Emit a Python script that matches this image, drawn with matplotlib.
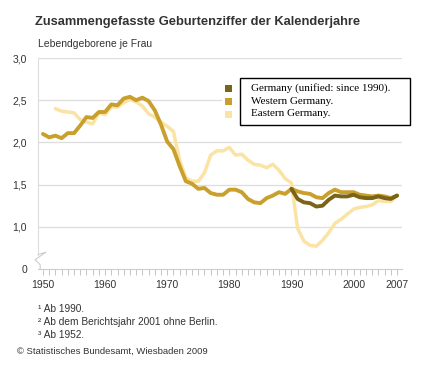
import matplotlib.pyplot as plt
from matplotlib.patches import Rectangle

years_west = list(range(1950, 2008))
west = [2.10, 2.06, 2.08, 2.05, 2.11, 2.11, 2.20, 2.30, 2.29, 2.36,
        2.36, 2.45, 2.44, 2.52, 2.54, 2.50, 2.53, 2.49, 2.38, 2.21,
        2.01, 1.92, 1.72, 1.54, 1.51, 1.45, 1.46, 1.40, 1.38, 1.38,
        1.44, 1.44, 1.41, 1.33, 1.29, 1.28, 1.34, 1.37, 1.41, 1.39,
        1.45, 1.42, 1.40, 1.39, 1.35, 1.34, 1.40, 1.44, 1.41, 1.41,
        1.41, 1.38, 1.37, 1.36, 1.37, 1.36, 1.34, 1.37]

years_east = list(range(1952, 2008))
east = [2.40, 2.37, 2.36, 2.35, 2.27, 2.24, 2.22, 2.35,
        2.33, 2.42, 2.42, 2.47, 2.51, 2.48, 2.43, 2.34, 2.30, 2.24,
        2.19, 2.13, 1.79, 1.58, 1.54, 1.54, 1.64, 1.85, 1.90, 1.90,
        1.94, 1.85, 1.86, 1.79, 1.74, 1.73, 1.70, 1.74, 1.67, 1.57,
        1.52, 0.98, 0.83, 0.78, 0.77, 0.84, 0.93, 1.04, 1.09, 1.15,
        1.21, 1.23, 1.24, 1.26, 1.31, 1.30, 1.30, 1.37]

years_de = list(range(1990, 2008))
germany = [1.45, 1.33, 1.29, 1.28, 1.24, 1.25, 1.32, 1.37, 1.36, 1.36,
           1.38, 1.35, 1.34, 1.34, 1.36, 1.34, 1.33, 1.37]

yticks = [0.5, 1.0, 1.5, 2.0, 2.5, 3.0]
ytick_labels = ["0", "1,0", "1,5", "2,0", "2,5", "3,0"]
xticks = [1950, 1960, 1970, 1980, 1990, 2000, 2007]

legend_labels = ["Germany (unified: since 1990).", "Western Germany.", "Eastern Germany."]
c_de, c_west, c_east = "#7a6418", "#c9a02c", "#fbe3a4"

plt.rcParams['font.family'] = ['Liberation Sans', 'DejaVu Sans']
txt = "#333333"

fig = plt.figure(figsize=(4.29, 3.73), dpi=100)
ax = fig.add_axes([38 / 429, 1 - 269 / 373, 364 / 429, 211 / 373])

ax.plot(years_east, east, color=c_east, lw=2.5, solid_capstyle="round", zorder=3)
ax.plot(years_west, west, color=c_west, lw=2.8, solid_capstyle="round", zorder=4)
ax.plot(years_de, germany, color=c_de, lw=2.8, solid_capstyle="round", zorder=5)

ax.set_xlim(1949.2, 2007.8)
ax.set_ylim(0.5, 3.0)
ax.set_yticks(yticks)
ax.set_yticklabels(ytick_labels)
ax.set_xticks(range(1950, 2008), minor=True)
ax.set_xticks(xticks)
ax.tick_params(axis="x", which="both", length=4, width=0.6, color="#bbbbbb",
               labelsize=7.5, labelcolor=txt, pad=4)
ax.tick_params(axis="y", length=0, labelsize=7.5, labelcolor=txt, pad=8)
for y in yticks[1:]:
    ax.axhline(y, color="#dddddd", lw=0.9, zorder=1)

for s in ["top", "right"]:
    ax.spines[s].set_visible(False)
ax.spines["bottom"].set_color("#cccccc")
ax.spines["left"].set_color("#dddddd")
ax.spines["left"].set_bounds(0.67, 3.0)
# axis break mark
ax.plot([0, 0.022, -0.008, 0.006, 0.006], [0.67, 0.70, 0.61, 0.55, 0.5],
        color="#cccccc", lw=0.8, transform=ax.get_yaxis_transform(), clip_on=False)

# legend box
fig.patches.append(Rectangle((240 / 429, 1 - 125 / 373), 170 / 429, 47 / 373,
                             transform=fig.transFigure, facecolor="white",
                             edgecolor="black", lw=1.0, zorder=10))
fig.patches.append(Rectangle((222 / 429, 1 - 127 / 373), 18 / 429, 50 / 373,
                             transform=fig.transFigure, facecolor="white",
                             edgecolor="none", zorder=9))
for i, (lab, c) in enumerate(zip(legend_labels, [c_de, c_west, c_east])):
    yc = 1 - (88 + i * 13) / 373
    fig.patches.append(Rectangle((225 / 429, yc - 3.5 / 373), 7 / 429, 7 / 373,
                                 transform=fig.transFigure, facecolor=c,
                                 edgecolor="none", zorder=11))
    fig.text(251 / 429, yc, lab, fontsize=8, family="Liberation Serif",
             va="center", ha="left", zorder=12)

fig.text(35 / 429, 1 - 22 / 373, "Zusammengefasste Geburtenziffer der Kalenderjahre",
         fontsize=9.3, fontweight="bold", color=txt, va="center")
fig.text(38 / 429, 1 - 44 / 373, "Lebendgeborene je Frau", fontsize=7.5,
         color=txt, va="center")

sups = ["\u00b9", "\u00b2", "\u00b3"]
notes = ["Ab 1990.", "Ab dem Berichtsjahr 2001 ohne Berlin.", "Ab 1952."]
for i, n in enumerate(notes):
    fig.text(38 / 429, 1 - (309 + i * 13) / 373, sups[i] + " " + n,
             fontsize=7.3, color=txt, va="center")
fig.text(17 / 429, 1 - 351 / 373, "\u00a9 Statistisches Bundesamt, Wiesbaden 2009",
         fontsize=6.8, color=txt, va="center")

fig.savefig("out.png", dpi=100)
